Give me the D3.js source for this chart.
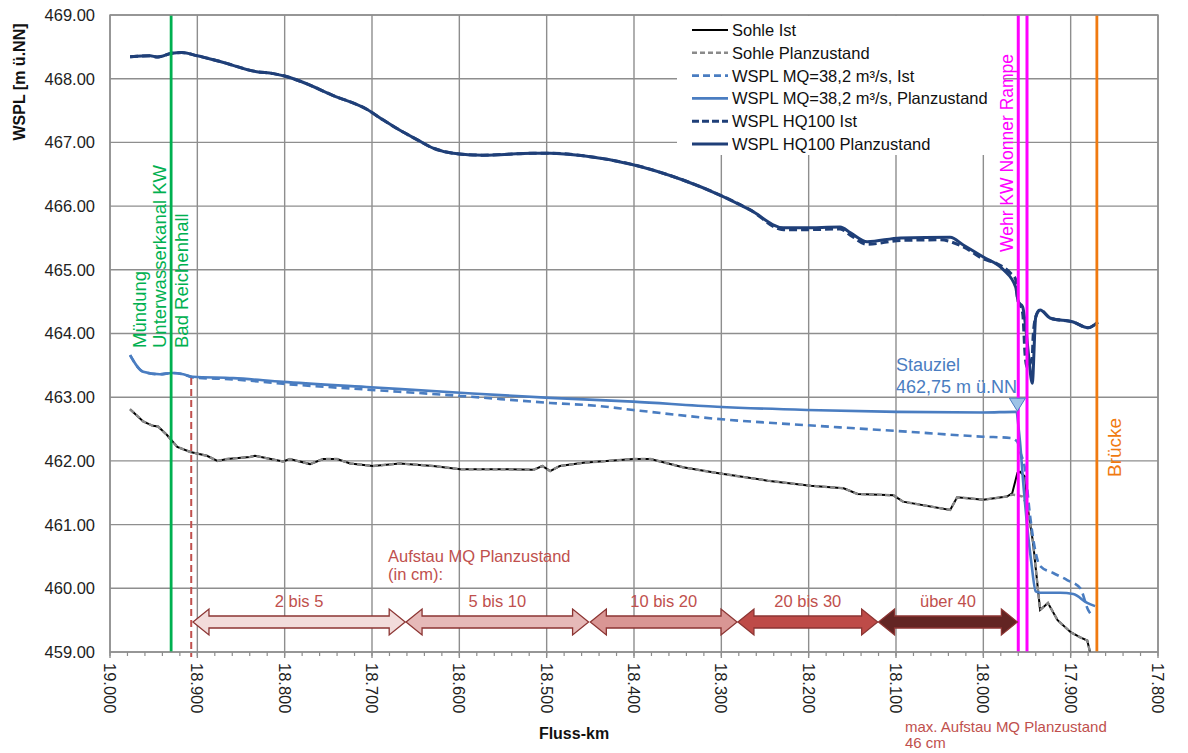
<!DOCTYPE html>
<html><head><meta charset="utf-8">
<script src="https://cdn.jsdelivr.net/npm/d3@7"></script>
<style>
html,body{margin:0;padding:0;background:#fff;}
svg text{font-family:"Liberation Sans",Arial,sans-serif;}
</style></head>
<body>
<svg id="c" width="1188" height="753"></svg>
<script>
// ---------- DATA ----------
const xTickValues = [19.0,18.9,18.8,18.7,18.6,18.5,18.4,18.3,18.2,18.1,18.0,17.9,17.8];
const xTickLabels = ["19.000","18.900","18.800","18.700","18.600","18.500","18.400","18.300","18.200","18.100","18.000","17.900","17.800"];
const yTickValues = [459,460,461,462,463,464,465,466,467,468,469];
const yTickLabels = ["459.00","460.00","461.00","462.00","463.00","464.00","465.00","466.00","467.00","468.00","469.00"];

const sohleIst = [[18.977,462.81],[18.962,462.62],[18.951,462.55],[18.945,462.54],[18.935,462.41],[18.923,462.22],[18.908,462.14],[18.889,462.08],[18.877,462.00],[18.866,462.03],[18.840,462.06],[18.834,462.08],[18.820,462.04],[18.802,461.99],[18.794,462.03],[18.771,461.95],[18.756,462.03],[18.740,462.03],[18.725,461.96],[18.699,461.92],[18.668,461.96],[18.630,461.92],[18.599,461.87],[18.553,461.87],[18.515,461.86],[18.505,461.92],[18.496,461.84],[18.485,461.92],[18.458,461.97],[18.439,461.99],[18.401,462.03],[18.381,462.03],[18.344,461.90],[18.305,461.81],[18.247,461.69],[18.198,461.61],[18.160,461.57],[18.144,461.48],[18.103,461.46],[18.092,461.36],[18.038,461.23],[18.030,461.43],[18.000,461.39],[17.973,461.44],[17.967,461.49],[17.961,461.81],[17.958,461.83],[17.952,461.75],[17.950,461.34],[17.943,460.71],[17.935,459.66],[17.926,459.77],[17.915,459.50],[17.900,459.31],[17.889,459.23],[17.881,459.18],[17.877,458.95]];
const sohlePlan = [[18.977,462.81],[18.962,462.62],[18.951,462.55],[18.945,462.54],[18.935,462.41],[18.923,462.22],[18.908,462.14],[18.889,462.08],[18.877,462.00],[18.866,462.03],[18.840,462.06],[18.834,462.08],[18.820,462.04],[18.802,461.99],[18.794,462.03],[18.771,461.95],[18.756,462.03],[18.740,462.03],[18.725,461.96],[18.699,461.92],[18.668,461.96],[18.630,461.92],[18.599,461.87],[18.553,461.87],[18.515,461.86],[18.505,461.92],[18.496,461.84],[18.485,461.92],[18.458,461.97],[18.439,461.99],[18.401,462.03],[18.381,462.03],[18.344,461.90],[18.305,461.81],[18.247,461.69],[18.198,461.61],[18.160,461.57],[18.144,461.48],[18.103,461.46],[18.092,461.36],[18.038,461.23],[18.030,461.43],[18.000,461.39],[17.973,461.44],[17.967,461.47],[17.961,461.46],[17.955,461.44],[17.950,461.30],[17.943,460.71],[17.935,459.66],[17.926,459.77],[17.915,459.50],[17.900,459.31],[17.889,459.23],[17.881,459.18],[17.877,458.95]];
const mqIst = [[18.977,463.66],[18.962,463.40],[18.943,463.36],[18.929,463.38],[18.916,463.36],[18.905,463.31],[18.859,463.28],[18.802,463.21],[18.706,463.12],[18.599,463.02],[18.496,462.91],[18.439,462.86],[18.401,462.80],[18.305,462.66],[18.202,462.56],[18.099,462.47],[18.000,462.38],[17.969,462.36],[17.961,462.30],[17.958,462.15],[17.952,461.85],[17.947,461.20],[17.942,460.70],[17.935,460.35],[17.920,460.24],[17.904,460.13],[17.889,460.00],[17.880,459.66],[17.874,459.55]];
const mqPlan = [[18.977,463.66],[18.962,463.40],[18.943,463.36],[18.929,463.38],[18.916,463.36],[18.905,463.32],[18.859,463.30],[18.802,463.24],[18.706,463.16],[18.599,463.07],[18.496,462.99],[18.401,462.93],[18.305,462.85],[18.202,462.80],[18.099,462.77],[18.000,462.76],[17.963,462.77],[17.958,462.30],[17.954,461.60],[17.950,461.00],[17.945,460.40],[17.940,459.95],[17.935,459.93],[17.912,459.93],[17.897,459.91],[17.881,459.77],[17.872,459.72]];
const hqIst = [[18.977,468.345],[18.954,468.36],[18.946,468.34],[18.929,468.40],[18.918,468.41],[18.900,468.36],[18.874,468.27],[18.832,468.11],[18.813,468.08],[18.797,468.03],[18.782,467.96],[18.745,467.74],[18.706,467.52],[18.687,467.35],[18.668,467.19],[18.648,467.04],[18.630,466.91],[18.607,466.83],[18.573,466.80],[18.515,466.83],[18.496,466.83],[18.458,466.79],[18.401,466.65],[18.344,466.41],[18.301,466.17],[18.267,465.94],[18.229,465.63],[18.206,465.63],[18.164,465.64],[18.152,465.54],[18.133,465.40],[18.095,465.46],[18.050,465.47],[18.023,465.36],[18.000,465.17],[17.985,465.10],[17.969,464.95],[17.963,464.85],[17.961,464.57],[17.955,464.32],[17.952,463.63],[17.950,463.47],[17.944,463.63],[17.943,463.95],[17.940,464.26],[17.935,464.37],[17.923,464.24],[17.897,464.18],[17.880,464.09],[17.869,464.18]];
const hqPlan = [[18.977,468.345],[18.954,468.36],[18.946,468.34],[18.929,468.40],[18.918,468.41],[18.900,468.36],[18.874,468.27],[18.832,468.11],[18.813,468.08],[18.797,468.03],[18.782,467.96],[18.745,467.74],[18.706,467.52],[18.687,467.35],[18.668,467.19],[18.648,467.04],[18.630,466.91],[18.607,466.83],[18.573,466.80],[18.515,466.83],[18.496,466.83],[18.458,466.79],[18.401,466.65],[18.344,466.41],[18.301,466.17],[18.267,465.94],[18.229,465.66],[18.206,465.66],[18.164,465.67],[18.152,465.58],[18.133,465.44],[18.095,465.50],[18.038,465.51],[18.023,465.39],[18.000,465.20],[17.977,465.00],[17.963,464.73],[17.960,464.50],[17.955,464.42],[17.952,464.16],[17.948,463.63],[17.944,463.22],[17.940,464.26],[17.935,464.37],[17.923,464.24],[17.897,464.18],[17.880,464.09],[17.869,464.18]];

const seriesNames = ["Sohle Ist","Sohle Planzustand","WSPL MQ=38,2 m³/s, Ist","WSPL MQ=38,2 m³/s, Planzustand","WSPL HQ100 Ist","WSPL HQ100 Planzustand"];

const arrowFrom = [18.905,18.661,18.450,18.281,18.120];
const arrowTo   = [18.662,18.452,18.282,18.121,17.961];
const arrowLabels = ["2 bis 5","5 bis 10","10 bis 20","20 bis 30","über 40"];

const kmMuendung = 18.930, kmAufstauStart = 18.907, kmWehr1 = 17.960, kmWehr2 = 17.950, kmBruecke = 17.870;
const stauzielKm = 17.961, stauzielValue = 462.78, aufstauLineTop = 463.30;

// ---------- DRAW ----------
const svg = d3.select("#c");
const L=110,R=1158,T=15,B=652;
const x = d3.scaleLinear().domain([19.0,17.8]).range([L,R]);
const y = d3.scaleLinear().domain([459,469]).range([B,T]);
const gridC = "#8e8e8e";

svg.append("rect").attr("width",1188).attr("height",753).attr("fill","#fff");
svg.append("defs").append("clipPath").attr("id","pc").append("rect").attr("x",L).attr("y",T).attr("width",R-L).attr("height",B-T);

// grid
const g = svg.append("g");
g.selectAll("line.gx").data(xTickValues).join("line").attr("x1",d=>x(d)).attr("x2",d=>x(d)).attr("y1",T).attr("y2",B).attr("stroke",gridC).attr("stroke-width",1.4);
g.selectAll("line.gy").data(yTickValues).join("line").attr("y1",d=>y(d)).attr("y2",d=>y(d)).attr("x1",L).attr("x2",R).attr("stroke",gridC).attr("stroke-width",1.4);

// x axis ticks (major + minor)
const minor = d3.range(0,61).map(i=>19.0-i*0.02);
g.selectAll("line.mt").data(minor).join("line").attr("x1",d=>x(d)).attr("x2",d=>x(d)).attr("y1",B).attr("y2",B+4).attr("stroke",gridC).attr("stroke-width",1.2);
g.selectAll("line.Mt").data(xTickValues).join("line").attr("x1",d=>x(d)).attr("x2",d=>x(d)).attr("y1",B).attr("y2",B+6).attr("stroke",gridC).attr("stroke-width",1.4);

// legend background (hides grid)
svg.append("rect").attr("x",677).attr("y",T+1).attr("width",326).attr("height",139).attr("fill","#fff");

// tick labels
svg.selectAll("text.yl").data(yTickValues).join("text").attr("x",95).attr("y",d=>y(d)).attr("dy","0.36em")
  .attr("text-anchor","end").attr("font-size",16.5).attr("fill","#222").text((d,i)=>yTickLabels[i]);
svg.selectAll("text.xl").data(xTickValues).join("text")
  .attr("transform",d=>`translate(${x(d)},${B+11}) rotate(90)`).attr("dy","0.36em")
  .attr("font-size",16.5).attr("fill","#222").text((d,i)=>xTickLabels[i]);
svg.append("text").attr("transform","translate(25,82) rotate(-90)").attr("text-anchor","middle")
  .attr("font-size",16).attr("font-weight","bold").attr("fill","#111").text("WSPL [m ü.NN]");
svg.append("text").attr("x",574).attr("y",739).attr("text-anchor","middle")
  .attr("font-size",16).attr("font-weight","bold").attr("fill","#111").text("Fluss-km");

// data lines
const line = d3.line().x(d=>x(d[0])).y(d=>y(d[1]));
const smooth = d3.line().x(d=>x(d[0])).y(d=>y(d[1])).curve(d3.curveMonotoneX);
const dl = svg.append("g").attr("clip-path","url(#pc)");
const navy="#1F3F78", mq="#4A7DC1";
dl.append("path").datum(sohleIst).attr("d",line).attr("fill","none").attr("stroke","#000").attr("stroke-width",2);
dl.append("path").datum(sohlePlan).attr("d",line).attr("fill","none").attr("stroke","#8a8a8a").attr("stroke-width",2.4).attr("stroke-dasharray","5,3");
dl.append("path").datum(mqIst).attr("d",smooth).attr("fill","none").attr("stroke",mq).attr("stroke-width",2.6).attr("stroke-dasharray","8,5");
dl.append("path").datum(mqPlan).attr("d",smooth).attr("fill","none").attr("stroke",mq).attr("stroke-width",2.6);
dl.append("path").datum(hqIst).attr("d",smooth).attr("fill","none").attr("stroke",navy).attr("stroke-width",3).attr("stroke-dasharray","8,4");
dl.append("path").datum(hqPlan).attr("d",smooth).attr("fill","none").attr("stroke",navy).attr("stroke-width",3);

// vertical reference lines
const vl = svg.append("g");
vl.append("line").attr("x1",x(kmMuendung)).attr("x2",x(kmMuendung)).attr("y1",T).attr("y2",B).attr("stroke","#00B050").attr("stroke-width",2.8);
vl.append("line").attr("x1",x(kmAufstauStart)).attr("x2",x(kmAufstauStart)).attr("y1",y(aufstauLineTop)).attr("y2",B+5).attr("stroke","#C0504D").attr("stroke-width",2).attr("stroke-dasharray","7,4");
[kmWehr1,kmWehr2].forEach(k=>vl.append("line").attr("x1",x(k)).attr("x2",x(k)).attr("y1",T).attr("y2",B).attr("stroke","#FF00FF").attr("stroke-width",3));
vl.append("line").attr("x1",x(kmBruecke)).attr("x2",x(kmBruecke)).attr("y1",T).attr("y2",B).attr("stroke","#F07A10").attr("stroke-width",2.8);

// Stauziel marker
const sx=x(stauzielKm), sy=y(stauzielValue);
svg.append("path").attr("d",`M${sx},${sy} L${sx-8},${sy-13} L${sx+8},${sy-13} Z`).attr("fill","#9DC3E6").attr("stroke","#4A7DC1").attr("stroke-width",1);
const st = svg.append("text").attr("font-size",18).attr("fill","#4A7DC1");
st.append("tspan").attr("x",896).attr("y",371).text("Stauziel");
st.append("tspan").attr("x",896).attr("y",393).text("462,75 m ü.NN");

// rotated labels
const gt = svg.append("text").attr("transform","translate(0,348) rotate(-90)").attr("font-size",18.5).attr("fill","#00B050");
gt.append("tspan").attr("x",0).attr("y",146).text("Mündung");
gt.append("tspan").attr("x",0).attr("y",166).text("Unterwasserkanal KW");
gt.append("tspan").attr("x",0).attr("y",188).text("Bad Reichenhall");
svg.append("text").attr("transform","translate(1013,252) rotate(-90)").attr("font-size",17.5).attr("fill","#FF00FF").text("Wehr KW Nonner Rampe");
svg.append("text").attr("transform","translate(1121,477) rotate(-90)").attr("font-size",19).attr("fill","#F07A10").text("Brücke");

// Aufstau annotation
const red="#C0504D";
const at = svg.append("text").attr("font-size",16.5).attr("fill",red);
at.append("tspan").attr("x",388).attr("y",562).text("Aufstau MQ Planzustand");
at.append("tspan").attr("x",388).attr("y",580).text("(in cm):");
const mt = svg.append("text").attr("font-size",15).attr("fill",red);
mt.append("tspan").attr("x",905).attr("y",732).text("max. Aufstau MQ Planzustand");
mt.append("tspan").attr("x",905).attr("y",748).text("46 cm");

// arrows
const fills=["#F2DCDB","#E6B9B8","#D99694","#BE4B48","#632523"];
const cy=622,h=6,H=13,AL=16;
arrowFrom.forEach((f,i)=>{
  const x1=x(f), x2=x(arrowTo[i]);
  const p=`M${x1},${cy} L${x1+AL},${cy-H} L${x1+AL},${cy-h} L${x2-AL},${cy-h} L${x2-AL},${cy-H} L${x2},${cy} L${x2-AL},${cy+H} L${x2-AL},${cy+h} L${x1+AL},${cy+h} L${x1+AL},${cy+H} Z`;
  svg.append("path").attr("d",p).attr("fill",fills[i]).attr("stroke","#8C3533").attr("stroke-width",1.3);
  svg.append("text").attr("x",(x1+x2)/2).attr("y",607).attr("text-anchor","middle").attr("font-size",16.5).attr("fill",red).text(arrowLabels[i]);
});

// legend
const lg = svg.append("g");
const styles=[{c:"#000",d:null,w:2},{c:"#8a8a8a",d:"5,3",w:2.4},{c:mq,d:"7,4",w:2.6},{c:mq,d:null,w:2.6},{c:navy,d:"7,3",w:3},{c:navy,d:null,w:3}];
seriesNames.forEach((n,i)=>{
  const yy=30+i*22.8;
  lg.append("line").attr("x1",692).attr("x2",728).attr("y1",yy).attr("y2",yy).attr("stroke",styles[i].c).attr("stroke-width",styles[i].w).attr("stroke-dasharray",styles[i].d);
  lg.append("text").attr("x",732).attr("y",yy).attr("dy","0.36em").attr("font-size",16.5).attr("fill","#111").text(n);
});

// plot frame
svg.append("rect").attr("x",L).attr("y",T).attr("width",R-L).attr("height",B-T).attr("fill","none").attr("stroke",gridC).attr("stroke-width",1.4);
</script>
</body></html>
